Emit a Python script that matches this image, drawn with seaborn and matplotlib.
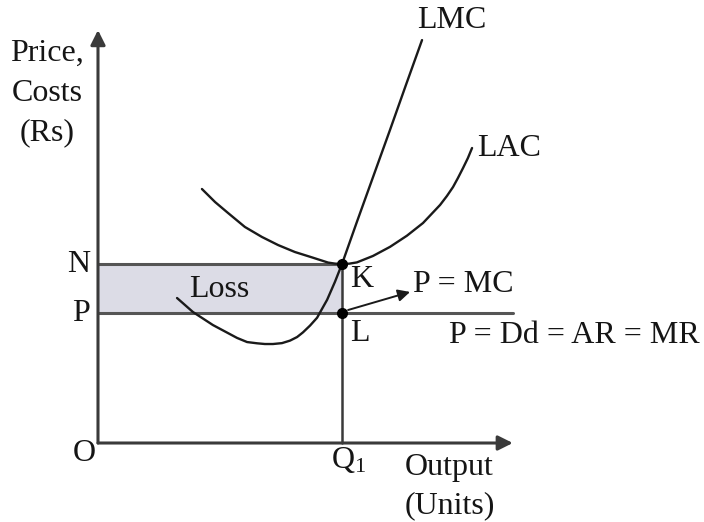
import numpy as np
import pandas as pd
import matplotlib
matplotlib.use('Agg')
import matplotlib.pyplot as plt
import seaborn as sns

# データ (Q1 = 10, N = 10 とした単位)
q1 = 10.0
price_n = 10.0
price_p = 7.26
x_axis_end = 17.0
y_axis_end = 23.07

lac_x = [4.26, 4.80, 5.33, 6.02, 6.72, 7.38, 8.07, 8.77, 9.43, 9.72, 10.0, 10.3,
         10.61, 11.27, 11.97, 12.66, 13.32, 14.02, 14.30, 14.55, 14.75, 14.96, 15.16, 15.33]
lac_y = [14.19, 13.46, 12.85, 12.07, 11.51, 11.06, 10.67, 10.37, 10.08, 10.02, 10.0, 10.02,
         10.09, 10.45, 10.96, 11.58, 12.29, 13.30, 13.80, 14.30, 14.80, 15.36, 15.92, 16.48]

lmc_x = [3.24, 3.89, 4.71, 5.70, 6.11, 6.52, 6.84, 7.17, 7.54, 7.87, 8.16, 8.40, 8.69,
         8.98, 9.18, 9.39, 9.71, 10.0, 10.61, 11.27, 11.97, 12.62, 13.28]
lmc_y = [8.10, 7.32, 6.59, 5.87, 5.64, 5.57, 5.53, 5.53, 5.58, 5.72, 5.92, 6.18, 6.56,
         7.00, 7.49, 8.00, 9.00, 10.0, 12.35, 14.85, 17.50, 20.00, 22.51]

sns.set_theme(style='white')
plt.rcParams['font.family'] = ['Liberation Serif', 'DejaVu Serif']
plt.rcParams['mathtext.fontset'] = 'stix'

fig = plt.figure(figsize=(7.04, 5.22), dpi=100)
ax = fig.add_axes([0, 0, 1, 1])

axis_col = '#3a3a3a'
curve_col = '#1a1a1a'
txt_col = '#151515'
fs = 23

# 損失の領域
ax.fill_between([0, q1], price_p, price_n, color='#dcdce6', lw=0)
ax.plot([0, q1], [price_n, price_n], color='#555555', lw=2.2)
ax.plot([0, x_axis_end], [price_p, price_p], color='#555555', lw=2.2)
ax.plot([q1, q1], [0, price_n], color=axis_col, lw=1.8)

# 軸
ax.annotate('', xy=(0, y_axis_end), xytext=(0, 0),
            arrowprops=dict(arrowstyle='-|>', mutation_scale=22, lw=2.2, color=axis_col, shrinkA=0, shrinkB=0))
ax.annotate('', xy=(x_axis_end, 0), xytext=(0, 0),
            arrowprops=dict(arrowstyle='-|>', mutation_scale=22, lw=2.2, color=axis_col, shrinkA=0, shrinkB=0))

# 曲線
lac = pd.DataFrame({'x': lac_x, 'y': lac_y})
lmc = pd.DataFrame({'x': lmc_x, 'y': lmc_y})
sns.lineplot(data=lac, x='x', y='y', sort=False, estimator=None, color=curve_col, lw=1.7, ax=ax,
             solid_joinstyle='round')
sns.lineplot(data=lmc, x='x', y='y', sort=False, estimator=None, color=curve_col, lw=1.7, ax=ax,
             solid_joinstyle='round')
ax.set_xlim(-4.016, 24.836)
ax.set_ylim(-4.413, 24.749)
ax.axis('off')

# 点 K, L
ax.plot([q1, q1], [price_n, price_p], 'o', color='black', ms=7)

# P = MC 矢印
ax.annotate('', xy=(12.79, 8.44), xytext=(10.25, 7.43),
            arrowprops=dict(arrowstyle='-|>', mutation_scale=18, lw=1.4, color=curve_col, shrinkA=0, shrinkB=0))

# ラベル
ax.text(-2.09, 19.55, 'Price,\nCosts\n(Rs)', ha='center', va='center', fontsize=fs, linespacing=1.5, color=txt_col)
ax.text(-0.33, price_n, 'N', ha='right', va='center', fontsize=fs, color=txt_col)
ax.text(-0.33, price_p, 'P', ha='right', va='center', fontsize=fs, color=txt_col)
ax.text(-0.57, -0.56, 'O', ha='center', va='center', fontsize=fs, color=txt_col)
ax.text(9.55, -0.95, r'$\mathregular{Q_1}$', ha='left', va='center', fontsize=fs, color=txt_col)
ax.text(14.4, -2.43, 'Output\n(Units)', ha='center', va='center', fontsize=fs, linespacing=1.42, color=txt_col)
ax.text(10.33, 9.16, 'K', ha='left', va='center', fontsize=fs, color=txt_col)
ax.text(10.33, 6.09, 'L', ha='left', va='center', fontsize=fs, color=txt_col)
ax.text(4.96, 8.55, 'Loss', ha='center', va='center', fontsize=fs, color=txt_col)
ax.text(12.91, 8.83, 'P = MC', ha='left', va='center', fontsize=fs, color=txt_col)
ax.text(24.67, 6.03, 'P = Dd = AR = MR', ha='right', va='center', fontsize=fs, color=txt_col)
ax.text(13.07, 23.6, 'LMC', ha='left', va='center', fontsize=fs, color=txt_col)
ax.text(15.53, 16.48, 'LAC', ha='left', va='center', fontsize=fs, color=txt_col)

fig.savefig('out.png', dpi=100, facecolor='white')
